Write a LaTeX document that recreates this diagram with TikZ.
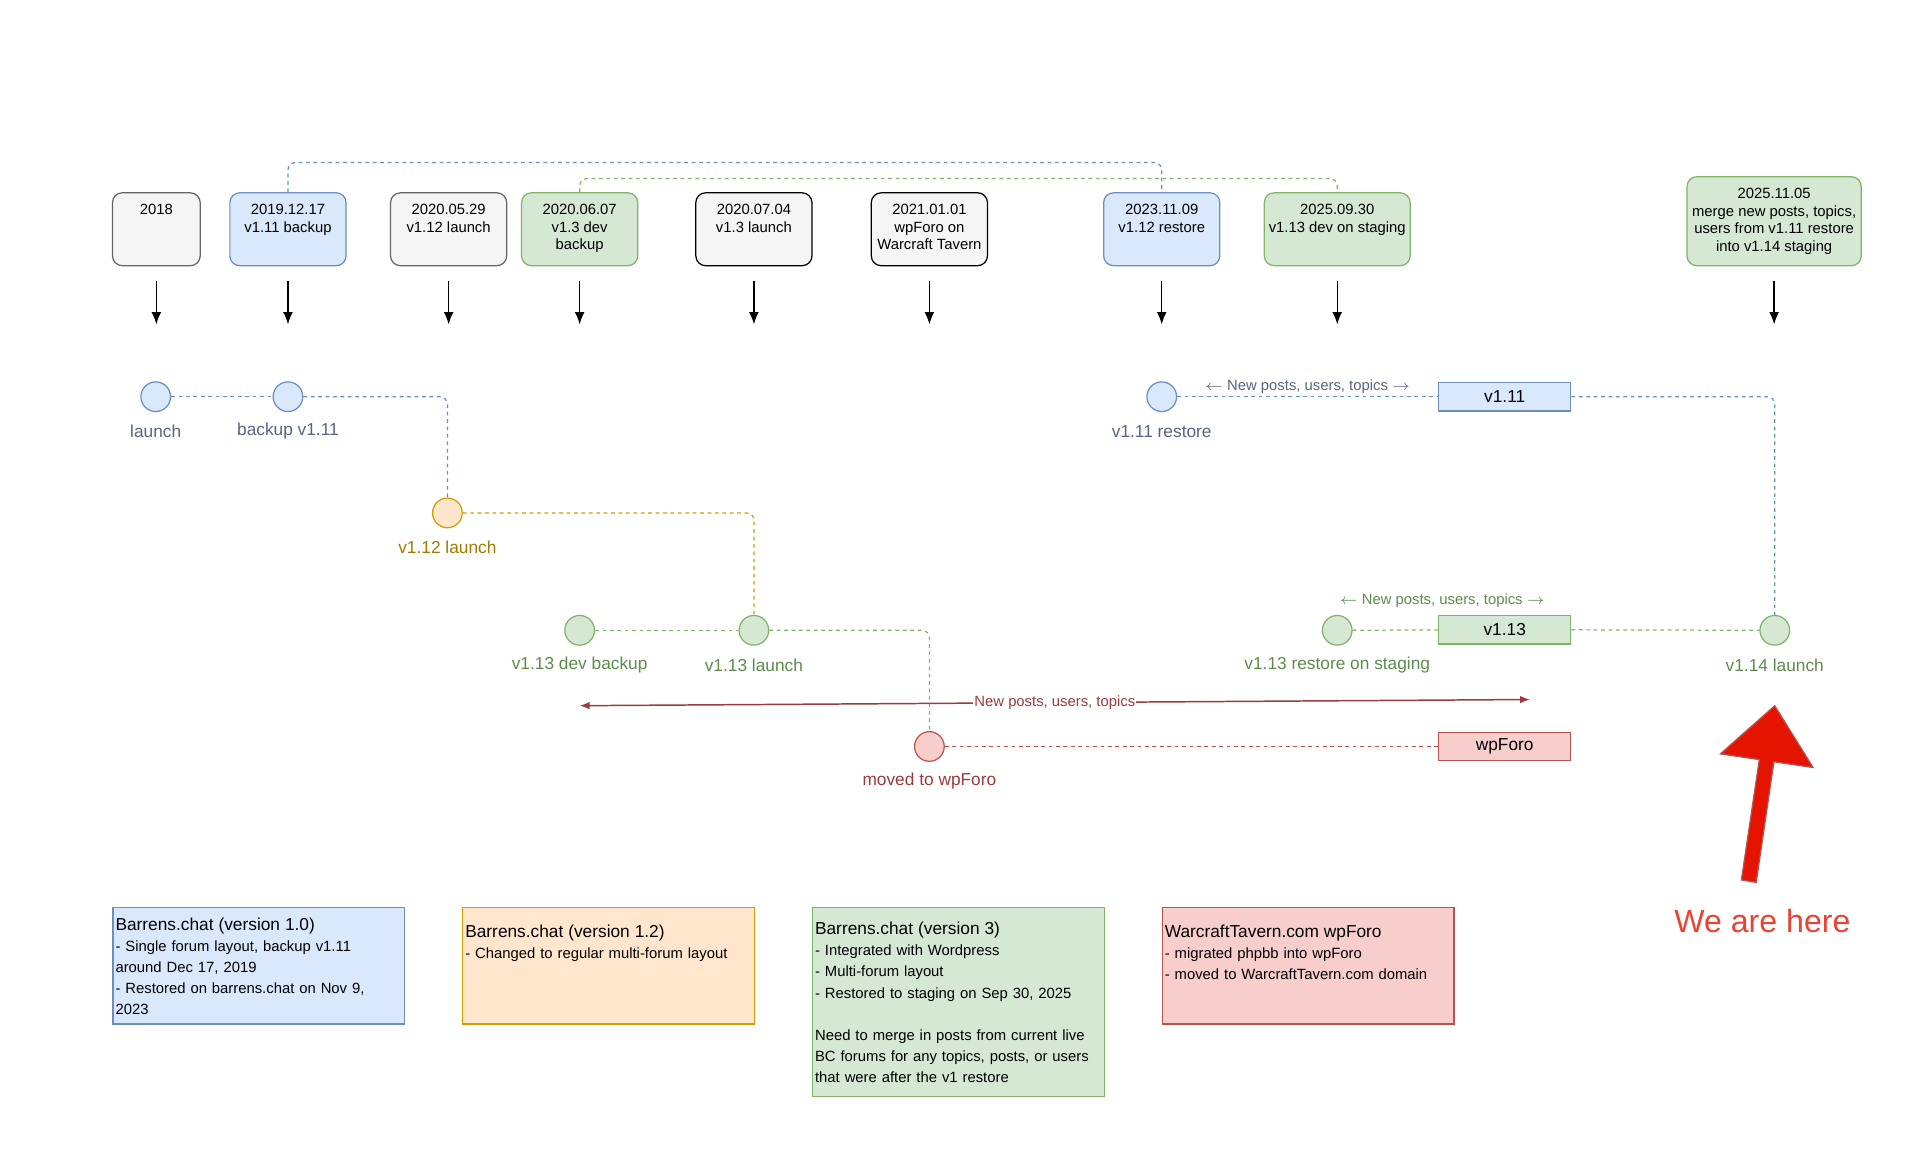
\documentclass[tikz,border=0pt]{standalone}
\usepackage{fontspec}
\setmainfont{Liberation Sans}
\usetikzlibrary{arrows.meta}
\definecolor{gfill}{HTML}{F5F5F5}\definecolor{gline}{HTML}{666666}
\definecolor{bfill}{HTML}{DAE8FC}\definecolor{bline}{HTML}{6C8EBF}\definecolor{btxt}{HTML}{56657F}
\definecolor{ofill}{HTML}{FFE6CC}\definecolor{oline}{HTML}{D79B00}\definecolor{otxt}{HTML}{A07A00}
\definecolor{nfill}{HTML}{D5E8D4}\definecolor{nline}{HTML}{82B366}\definecolor{ntxt}{HTML}{5E8A4E}
\definecolor{rfill}{HTML}{F8CECC}\definecolor{rline}{HTML}{B85450}\definecolor{rtxt}{HTML}{9B3B3B}
\definecolor{bigred}{HTML}{E51400}
\tikzset{
  box/.style={draw, rounded corners=4pt, line width=0.5pt, minimum height=29.5pt, inner sep=0pt},
  boxtxt/.style={anchor=north, align=center, inner sep=0pt, font=\fontsize{6}{7.25}\selectfont},
  dot/.style={circle, draw, line width=0.5pt, minimum size=12pt, inner sep=0pt},
  lbl/.style={font=\fontsize{7}{8}\selectfont, inner sep=0pt},
  tag/.style={draw, line width=0.5pt, minimum width=53.5pt, minimum height=11.5pt, inner sep=0pt, font=\fontsize{7}{8}\selectfont},
  dashln/.style={line width=0.5pt, dash pattern=on 1.5pt off 1.5pt, rounded corners=3pt},
  tarr/.style={line width=0.6pt, -{Latex[length=5pt,width=4pt]}},
  legend/.style={draw, line width=0.5pt, anchor=north west, minimum width=118pt, text width=116pt, inner sep=1pt, align=left, font=\fontsize{6}{8.5}\selectfont},
}
\begin{document}
\begin{tikzpicture}[x={(0.5pt,0)}, y={(0,-0.5pt)}]
  \useasboundingbox (0,0) rectangle (1560,946);

  % timeline boxes
  \node[box, fill=gfill, draw=gline, minimum width=35.5pt] (b1) at (126.5,185.5) {};
  \node[box, fill=bfill, draw=bline, minimum width=47pt] (b2) at (233,185.5) {};
  \node[box, fill=gfill, draw=gline, minimum width=47pt] (b3) at (363,185.5) {};
  \node[box, fill=nfill, draw=nline, minimum width=47pt] (b4) at (469,185.5) {};
  \node[box, fill=gfill, draw=black, minimum width=47pt] (b5) at (610,185.5) {};
  \node[box, fill=gfill, draw=black, minimum width=47pt] (b6) at (752,185.5) {};
  \node[box, fill=bfill, draw=bline, minimum width=47pt] (b7) at (940,185.5) {};
  \node[box, fill=nfill, draw=nline, minimum width=59pt] (b8) at (1082,185.5) {};
  \node[box, fill=nfill, draw=nline, minimum width=70.5pt, minimum height=36pt] (b9) at (1435.5,179) {};

  \node[boxtxt] (t1) at ([yshift=-4.5pt]b1.north) {2018};
  \node[boxtxt] (t2) at ([yshift=-4.5pt]b2.north) {2019.12.17\\v1.11 backup};
  \node[boxtxt] (t3) at ([yshift=-4.5pt]b3.north) {2020.05.29\\v1.12 launch};
  \node[boxtxt] (t4) at ([yshift=-4.5pt]b4.north) {2020.06.07\\v1.3 dev\\backup};
  \node[boxtxt] (t5) at ([yshift=-4.5pt]b5.north) {2020.07.04\\v1.3 launch};
  \node[boxtxt] (t6) at ([yshift=-4.5pt]b6.north) {2021.01.01\\wpForo on\\Warcraft Tavern};
  \node[boxtxt] (t7) at ([yshift=-4.5pt]b7.north) {2023.11.09\\v1.12 restore};
  \node[boxtxt] (t8) at ([yshift=-4.5pt]b8.north) {2025.09.30\\v1.13 dev on staging};
  \node[boxtxt] (t9) at ([yshift=-4.5pt]b9.north) {2025.11.05\\merge new posts, topics,\\users from v1.11 restore\\into v1.14 staging};

  \foreach \b in {b1,b2,b3,b4,b5,b6,b7,b8,b9}
    \draw[tarr] ([yshift=-6pt]\b.south) -- ++(0,35);

  % top links
  \draw[dashln, draw=bline] (b2.north) -- ++(0,-24) -| (b7.north);
  \draw[dashln, draw=nline] (b4.north) -- ++(0,-11) -| (b8.north);

  % commits
  \node[dot, fill=bfill, draw=bline] (c1) at (126,321) {};
  \node[dot, fill=bfill, draw=bline] (c2) at (233,321) {};
  \node[dot, fill=ofill, draw=oline] (c3) at (362,415) {};
  \node[dot, fill=nfill, draw=nline] (c4) at (469,510) {};
  \node[dot, fill=nfill, draw=nline] (c5) at (610,510) {};
  \node[dot, fill=rfill, draw=rline] (c6) at (752,604) {};
  \node[dot, fill=bfill, draw=bline] (c7) at (940,321) {};
  \node[dot, fill=nfill, draw=nline] (c8) at (1082,510) {};
  \node[dot, fill=nfill, draw=nline] (c9) at (1436,510) {};

  \node[lbl, text=btxt] (l1) at (126,349) {launch};
  \node[lbl, text=btxt] (l2) at (233,349) {backup v1.11};
  \node[lbl, text=otxt] (l3) at (362,443) {v1.12 launch};
  \node[lbl, text=ntxt] (l4) at (469,538) {v1.13 dev backup};
  \node[lbl, text=ntxt] (l5) at (610,538) {v1.13 launch};
  \node[lbl, text=rtxt] (l6) at (752,632) {moved to wpForo};
  \node[lbl, text=btxt] (l7) at (940,349) {v1.11 restore};
  \node[lbl, text=ntxt] (l8) at (1082,538) {v1.13 restore on staging};
  \node[lbl, text=ntxt] (l9) at (1436,538) {v1.14 launch};

  \node[tag, fill=bfill, draw=bline] (v11) at (1217.5,321) {v1.11};
  \node[tag, fill=nfill, draw=nline] (v13) at (1217.5,509.5) {v1.13};
  \node[tag, fill=rfill, draw=rline] (wpf) at (1217.5,604) {wpForo};

  % branches
  \draw[dashln, draw=bline] (c1) -- (c2);
  \draw[dashln, draw=bline] (c2) -| (c3);
  \draw[dashln, draw=oline] (c3) -| (c5);
  \draw[dashln, draw=nline] (c4) -- (c5);
  \draw[dashln, draw=nline] (c5) -| (c6);
  \draw[dashln, draw=rline] (c6) -- (wpf);
  \draw[dashln, draw=bline] (c7) -- node[pos=0.5, yshift=4pt, font=\fontsize{6}{7}\selectfont, text=btxt] {$\leftarrow$ New posts, users, topics $\rightarrow$} (v11);
  \draw[dashln, draw=bline] (v11) -| (c9);
  \draw[dashln, draw=nline] (c8) -- (v13);
  \draw[dashln, draw=nline] (v13) -- (c9);
  \node[font=\fontsize{6}{7}\selectfont, text=ntxt] (n13) at (1167,486) {$\leftarrow$ New posts, users, topics $\rightarrow$};

  % new posts span
  \coordinate (s1) at (469,571);
  \coordinate (s2) at (1238,566);
  \draw[rtxt, line width=0.6pt, {Latex[length=4pt,width=3pt]}-{Latex[length=4pt,width=3pt]}] (s1) -- node[fill=white, inner sep=0.5pt, font=\fontsize{6}{7}\selectfont, text=rtxt] {New posts, users, topics} (s2);

  % we are here
  \draw[fill=bigred, draw=rline, line width=0.5pt] (1409,712) -- (1423.5,614.6) -- (1392,610) -- (1436,571) -- (1467,621) -- (1435.3,616.4) -- (1421,714) -- cycle;
  \node[font=\fontsize{13}{15}\selectfont, text=bigred!80!white] (here) at (1426,745) {We are here};

  % legend
  \node[legend, fill=bfill, draw=bline, minimum height=47pt] (g1) at (91,734) {{\fontsize{7}{8.5}\selectfont Barrens.chat (version 1.0)}\\- Single forum layout, backup v1.11\\around Dec 17, 2019\\- Restored on barrens.chat on Nov 9, 2023};
  \node[legend, fill=ofill, draw=oline, minimum height=47pt] (g2) at (374,734) {{\fontsize{7}{8.5}\selectfont Barrens.chat (version 1.2)}\\- Changed to regular multi-forum layout\\\strut\\\strut};
  \node[legend, fill=nfill, draw=nline, minimum height=76.5pt] (g3) at (657,734) {{\fontsize{7}{8.5}\selectfont Barrens.chat (version 3)}\\- Integrated with Wordpress\\- Multi-forum layout\\- Restored to staging on Sep 30, 2025\\\strut\\Need to merge in posts from current live BC forums for any topics, posts, or users that were after the v1 restore};
  \node[legend, fill=rfill, draw=rline, minimum height=47pt] (g4) at (940,734) {{\fontsize{7}{8.5}\selectfont WarcraftTavern.com wpForo}\\- migrated phpbb into wpForo\\- moved to WarcraftTavern.com domain\\\strut};
\end{tikzpicture}
\end{document}
